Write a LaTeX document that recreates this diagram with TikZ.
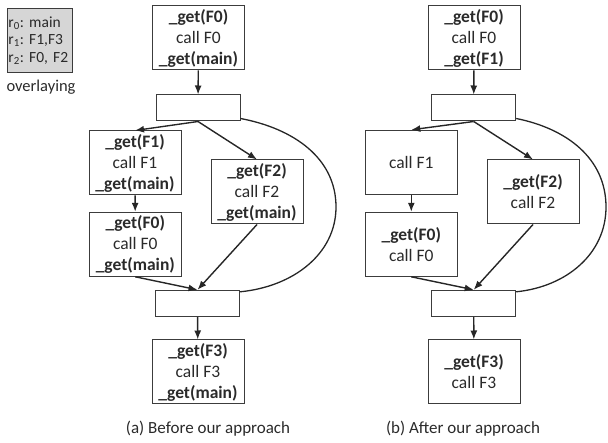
\documentclass[tikz,border=0pt]{standalone}
\usepackage{fontspec}
\setmainfont{Carlito}
\usetikzlibrary{arrows.meta}
\definecolor{boxline}{HTML}{3C3C3C}
\definecolor{txt}{HTML}{2A2A2A}
\begin{document}
\begin{tikzpicture}[x=1pt,y=-1pt,
    codebox/.style={draw=boxline, line width=1pt, minimum width=92pt, minimum height=64pt,
        inner sep=0pt, align=center, text=txt, font=\fontsize{17.5}{21}\selectfont},
    joinbox/.style={draw=boxline, line width=1pt, minimum width=84pt, minimum height=26pt, inner sep=0pt},
    flow/.style={line width=1.4pt, draw=black!85, -{Latex[length=9pt,width=7pt]}},
    loopback/.style={line width=1.3pt, draw=black!85},
    caption/.style={text=txt, font=\fontsize{17}{20}\selectfont}]

\useasboundingbox (0,0) rectangle (608,443);

% register overlaying
\node[draw=boxline, line width=1pt, fill=black!16, text width=63pt, minimum height=64pt,
    inner sep=1.3pt, align=left, text=txt, font=\fontsize{15.5}{17.5}\selectfont] (regs) at (40,40.3)
    {r\textsubscript{0}:~main\\r\textsubscript{1}:~F1,F3\\r\textsubscript{2}:~F0,~F2};
\node[caption, font=\fontsize{16.5}{18}\selectfont] (ovl) at (41,87) {overlaying};

% (a) before
\node[codebox] (a0) at (198.5,38) {\textbf{\_get(F0)}\\call F0\\\textbf{\_get(main)}};
\node[joinbox] (ea1) at (198,108) {};
\node[codebox] (a1) at (135,163) {\textbf{\_get(F1)}\\call F1\\\textbf{\_get(main)}};
\node[codebox] (a2) at (257,192) {\textbf{\_get(F2)}\\call F2\\\textbf{\_get(main)}};
\node[codebox] (a3) at (135.3,244.3) {\textbf{\_get(F0)}\\call F0\\\textbf{\_get(main)}};
\node[joinbox] (ea2) at (197.5,303.3) {};
\node[codebox] (a4) at (198,372) {\textbf{\_get(F3)}\\call F3\\\textbf{\_get(main)}};
\coordinate (ca) at (336,207);

\draw[flow] (a0) -- (ea1);
\draw[flow] (ea1.south) -- (a1.north);
\draw[flow] (ea1.south) -- (a2.north);
\draw[flow] (a1) -- (a3);
\draw[flow] (a3.south) -- (ea2.north);
\draw[flow] (a2.south) -- (ea2.north);
\draw[flow] (ea2) -- (a4);
\draw[loopback] ([yshift=3pt]ea1.south east) .. controls +(53,10) and +(0,-49) .. (ca)
    .. controls +(0,47) and +(53,-5) .. ([yshift=-2pt]ea2.north east);

\node[caption] (capa) at (208,429) {(a) Before our approach};

% (b) after
\node[codebox] (b0) at (474,38) {\textbf{\_get(F0)}\\call F0\\\textbf{\_get(F1)}};
\node[joinbox] (eb1) at (473.7,108) {};
\node[codebox] (b1) at (411.3,162.3) {call F1};
\node[codebox] (b2) at (533,192) {\textbf{\_get(F2)}\\call F2};
\node[codebox] (b3) at (411.3,244.3) {\textbf{\_get(F0)}\\call F0};
\node[joinbox] (eb2) at (473.7,303.3) {};
\node[codebox] (b4) at (474,372) {\textbf{\_get(F3)}\\call F3};
\coordinate (cb) at (606,207);

\draw[flow] (b0) -- (eb1);
\draw[flow] (eb1.south) -- (b1.north);
\draw[flow] (eb1.south) -- (b2.north);
\draw[flow] (b1) -- (b3);
\draw[flow] (b3.south) -- (eb2.north);
\draw[flow] (b2.south) -- (eb2.north);
\draw[flow] (eb2) -- (b4);
\draw[loopback] ([yshift=3pt]eb1.south east) .. controls +(50,10) and +(0,-49) .. (cb)
    .. controls +(0,47) and +(50,-5) .. ([yshift=-2pt]eb2.north east);

\node[caption] (capb) at (463,429) {(b) After our approach};
\end{tikzpicture}
\end{document}
